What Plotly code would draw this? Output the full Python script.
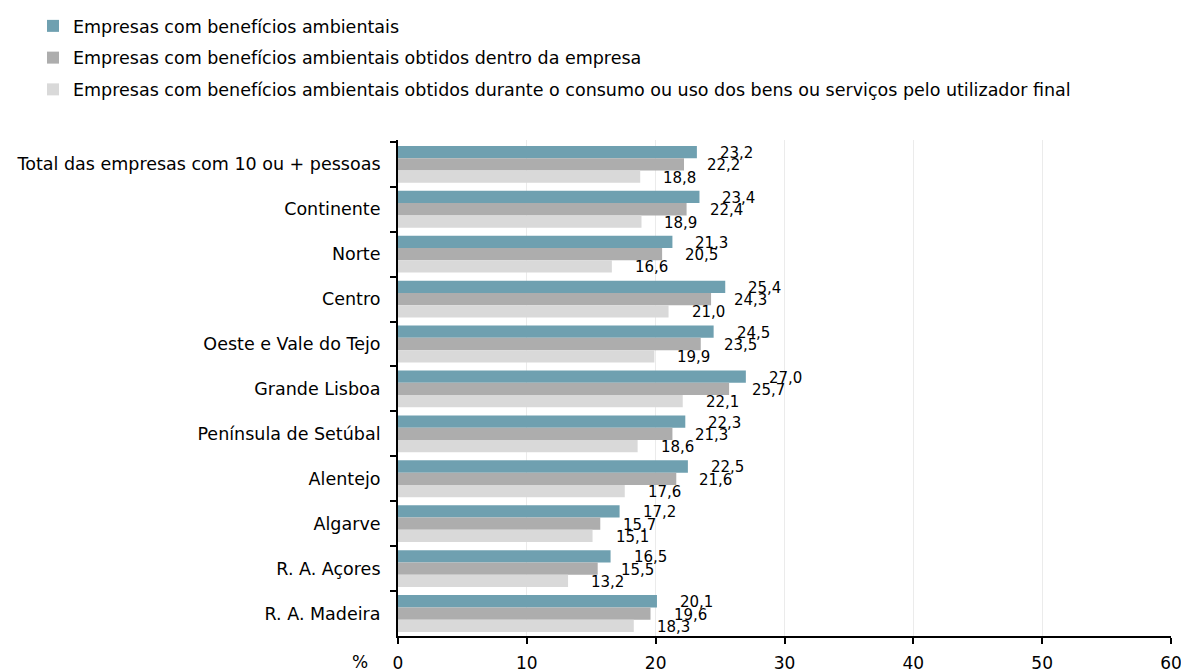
import plotly.graph_objects as go

categories = ["Total das empresas com 10 ou + pessoas", "Continente", "Norte", "Centro",
              "Oeste e Vale do Tejo", "Grande Lisboa", "Península de Setúbal", "Alentejo",
              "Algarve", "R. A. Açores", "R. A. Madeira"]
series_names = ["Empresas com benefícios ambientais",
                "Empresas com benefícios ambientais obtidos dentro da empresa",
                "Empresas com benefícios ambientais obtidos durante o consumo ou uso dos bens ou serviços pelo utilizador final"]
s1 = [23.2, 23.4, 21.3, 25.4, 24.5, 27.0, 22.3, 22.5, 17.2, 16.5, 20.1]
s2 = [22.2, 22.4, 20.5, 24.3, 23.5, 25.7, 21.3, 21.6, 15.7, 15.5, 19.6]
s3 = [18.8, 18.9, 16.6, 21.0, 19.9, 22.1, 18.6, 17.6, 15.1, 13.2, 18.3]
x_ticks = [0, 10, 20, 30, 40, 50, 60]
colors = ["#6FA0B0", "#ADADAD", "#D9D9D9"]

FONT = "DejaVu Sans, Verdana, sans-serif"

# page is drawn with an 8px body margin, so the figure is sized to the visible area
W, H = 1181, 662
L, R, T, B = 390, 18, 132, 34
plot_w = W - L - R
plot_h = H - T - B

fig = go.Figure()
all_series = [s1, s2, s3]
for i, (name, vals, col) in enumerate(zip(series_names, all_series, colors)):
    fig.add_trace(go.Bar(y=categories, x=vals, name=name, orientation="h",
                         legendgroup=f"g{i}",
                         marker=dict(color=col, line=dict(width=0))))

cat_h = plot_h / len(categories)
bargap = 0.18
bar_h = cat_h * (1 - bargap) / 3

annotations = []
for i, vals in enumerate(all_series):
    yshift = (1 - i) * bar_h - 1
    for c, v in zip(categories, vals):
        annotations.append(dict(x=v, y=c, xref="x", yref="y", text=f"{v:.1f}".replace(".", ","),
                                showarrow=False, xanchor="left", yanchor="middle",
                                xshift=21, yshift=yshift,
                                font=dict(family=FONT, size=15, color="#000000")))
annotations.append(dict(x=0, y=0, xref="paper", yref="paper", text="%", showarrow=False,
                        xanchor="right", yanchor="middle", xshift=-28, yshift=-26,
                        font=dict(family=FONT, size=17, color="#000000")))
fig.update_layout(
    width=W, height=H,
    margin=dict(l=L, r=R, t=T, b=B, autoexpand=False),
    paper_bgcolor="white", plot_bgcolor="white",
    barmode="group", bargap=bargap, bargroupgap=0,
    font=dict(family=FONT, size=17, color="#000000"),
    legend=dict(x=(25 - L) / plot_w, y=1 + T / plot_h, xanchor="left", yanchor="top",
                font=dict(family=FONT, size=17.5), traceorder="grouped",
                itemwidth=30, tracegroupgap=6, bgcolor="rgba(0,0,0,0)"),
    annotations=annotations,
    showlegend=True,
)
fig.update_xaxes(range=[0, 60], tickvals=x_ticks, showgrid=True, gridcolor="#EBEBEB", gridwidth=1,
                 showline=True, linecolor="#000000", linewidth=2, ticks="outside", ticklen=6,
                 tickwidth=2, tickcolor="#000000", zeroline=False, automargin=False,
                 ticklabelstandoff=5,
                 tickfont=dict(family=FONT, size=17))
fig.update_yaxes(autorange="reversed", showline=True, linecolor="#000000", linewidth=2,
                 ticks="outside", ticklen=6, tickwidth=2, tickcolor="#000000",
                 tickson="boundaries", showgrid=False, automargin=False,
                 ticklabelstandoff=12,
                 tickfont=dict(family=FONT, size=17.5))
fig.write_html("out.html")
